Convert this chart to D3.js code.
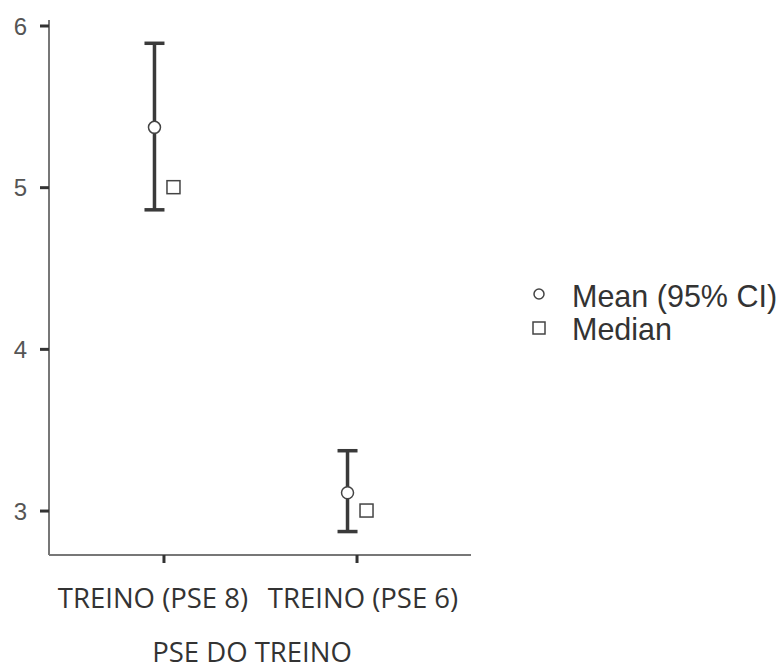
<!DOCTYPE html>
<html><head><meta charset="utf-8">
<script src="https://cdn.jsdelivr.net/npm/d3@7"></script>
<style>body{margin:0;background:#fff}svg{display:block}</style>
</head><body>
<svg id="c" width="784" height="666"></svg>
<script>
const categories = ["TREINO (PSE 8)", "TREINO (PSE 6)"];
const means = [5.37, 3.11];
const ciLower = [4.86, 2.87];
const ciUpper = [5.89, 3.37];
const medians = [5, 3];
const yTicks = [3, 4, 5, 6];
const xTitle = "PSE DO TREINO";
const legendLabels = ["Mean (95% CI)", "Median"];

const svg = d3.select("#c");
const pLeft = 49, pRight = 471, pTop = 20, pBottom = 555;
const y = d3.scaleLinear().domain([2.725, 6.034]).range([pBottom, pTop]);
const x = d3.scalePoint().domain(categories).range([pLeft, pRight]).padding(0.593);

// axes
const ya = svg.append("g").attr("transform", `translate(${pLeft},0)`)
  .call(d3.axisLeft(y).tickValues(yTicks).tickFormat(d3.format("d")).tickSize(9).tickPadding(13));
ya.select(".domain").attr("stroke", "#777").attr("stroke-width", 2).attr("d", `M0,${pTop}V${pBottom}`);
ya.selectAll(".tick line").attr("stroke", "#333").attr("stroke-width", 3);
ya.selectAll(".tick text").attr("fill", "#555").attr("font-family", "Liberation Sans, Arial, sans-serif").attr("font-size", 24).attr("dy", "0.36em");

const xa = svg.append("g").attr("transform", `translate(0,${pBottom})`)
  .call(d3.axisBottom(x).tickSize(8).tickPadding(26));
xa.select(".domain").attr("stroke", "#777").attr("stroke-width", 2).attr("d", `M${pLeft},0H${pRight}`);
xa.selectAll(".tick line").attr("stroke", "#333").attr("stroke-width", 3);
const labelShift = [-11, 6];
xa.selectAll(".tick text").attr("fill", "#333").attr("font-family", "Open Sans, sans-serif").attr("font-size", 27.5)
  .attr("dy", "0.68em").attr("dx", (d, i) => labelShift[i]);

svg.append("text").attr("x", 252).attr("y", 662).attr("text-anchor", "middle")
  .attr("fill", "#333").attr("font-family", "Open Sans, sans-serif").attr("font-size", 27.5).text(xTitle);

// error bars
const meanOff = -9, medOff = 10, capW = 10;
const g = svg.append("g");
categories.forEach((c, i) => {
  const cx = x(c) + meanOff;
  g.append("line").attr("x1", cx).attr("x2", cx).attr("y1", y(ciUpper[i])).attr("y2", y(ciLower[i]))
    .attr("stroke", "#3a3a3a").attr("stroke-width", 3.5);
  [ciUpper[i], ciLower[i]].forEach(v => {
    g.append("line").attr("x1", cx - capW).attr("x2", cx + capW).attr("y1", y(v)).attr("y2", y(v))
      .attr("stroke", "#3a3a3a").attr("stroke-width", 3.5);
  });
  g.append("circle").attr("cx", cx).attr("cy", y(means[i])).attr("r", 6)
    .attr("fill", "#fff").attr("stroke", "#444").attr("stroke-width", 1.5);
  const mx = x(c) + medOff;
  g.append("rect").attr("x", mx - 6.5).attr("y", y(medians[i]) - 6.5).attr("width", 13).attr("height", 13)
    .attr("fill", "#fff").attr("stroke", "#444").attr("stroke-width", 1.5);
});

// legend
const lg = svg.append("g").attr("font-family", "Liberation Sans, Arial, sans-serif").attr("font-size", 30.5).attr("fill", "#333");
lg.append("circle").attr("cx", 539).attr("cy", 294).attr("r", 5).attr("fill", "#fff").attr("stroke", "#444").attr("stroke-width", 1.5);
lg.append("rect").attr("x", 533).attr("y", 322).attr("width", 12).attr("height", 12).attr("fill", "#fff").attr("stroke", "#444").attr("stroke-width", 1.5);
lg.append("text").attr("x", 572).attr("y", 307).text(legendLabels[0]);
lg.append("text").attr("x", 572).attr("y", 340).text(legendLabels[1]);
</script>
</body></html>
